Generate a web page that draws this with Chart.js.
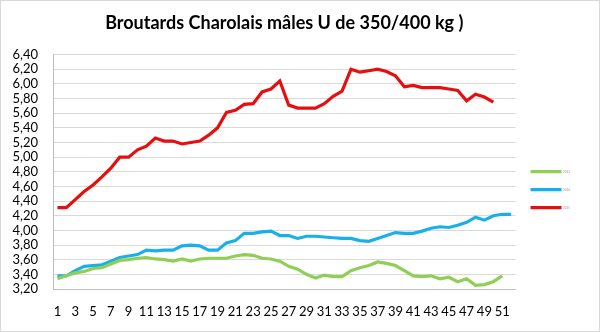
<!DOCTYPE html>
<html>
<head>
<meta charset="utf-8">
<script src="https://cdn.jsdelivr.net/npm/chart.js@4/dist/chart.umd.min.js"></script>
<style>
  body { margin: 0; background: #fff; }
  #wrap { width: 600px; height: 332px; box-sizing: border-box; border: 1px solid #d9d9d9; }
</style>
</head>
<body>
<div id="wrap"><canvas id="broutardsChart"></canvas></div>
<script>
// weeks 1..52
const weeks = Array.from({ length: 52 }, (_, i) => String(i + 1));

const seriesNames = ["2023", "2024", "2025"];

const prices2023 = [3.34, 3.38, 3.42, 3.44, 3.48, 3.49, 3.54, 3.59, 3.60, 3.62,
  3.63, 3.61, 3.60, 3.58, 3.61, 3.58, 3.61, 3.62, 3.62, 3.62,
  3.65, 3.67, 3.66, 3.62, 3.61, 3.58, 3.51, 3.47, 3.40, 3.35,
  3.39, 3.37, 3.37, 3.45, 3.49, 3.52, 3.57, 3.55, 3.52, 3.45,
  3.38, 3.37, 3.38, 3.34, 3.36, 3.30, 3.34, 3.25, 3.26, 3.30,
  3.38, null];

const prices2024 = [3.38, 3.38, 3.45, 3.51, 3.52, 3.53, 3.58, 3.63, 3.65, 3.67,
  3.73, 3.72, 3.73, 3.73, 3.79, 3.80, 3.79, 3.73, 3.73, 3.83,
  3.86, 3.96, 3.96, 3.98, 3.99, 3.93, 3.93, 3.89, 3.92, 3.92,
  3.91, 3.90, 3.89, 3.89, 3.86, 3.85, 3.89, 3.93, 3.97, 3.96,
  3.96, 3.99, 4.03, 4.05, 4.04, 4.07, 4.11, 4.18, 4.14, 4.20,
  4.22, 4.22];

const prices2025 = [4.31, 4.31, 4.42, 4.53, 4.62, 4.73, 4.85, 5.00, 5.00, 5.10,
  5.15, 5.26, 5.22, 5.22, 5.18, 5.20, 5.22, 5.30, 5.40, 5.61,
  5.64, 5.72, 5.73, 5.89, 5.93, 6.04, 5.71, 5.67, 5.67, 5.67,
  5.73, 5.83, 5.90, 6.20, 6.16, 6.18, 6.20, 6.17, 6.11, 5.96,
  5.98, 5.95, 5.95, 5.95, 5.93, 5.91, 5.77, 5.86, 5.82, 5.75,
  null, null];

const lineColors = ["#8fcf55", "#19b0ea", "#e60f0f"];

const fontFamily = "Lato, 'Open Sans', sans-serif";

const ctx = document.getElementById("broutardsChart");

new Chart(ctx, {
  type: "line",
  data: {
    labels: weeks,
    datasets: [prices2023, prices2024, prices2025].map(function (values, i) {
      return {
        label: seriesNames[i],
        data: values,
        borderColor: lineColors[i],
        backgroundColor: lineColors[i],
        borderWidth: 3.2,
        pointRadius: 0,
        tension: 0,
        spanGaps: false,
      };
    }),
  },
  options: {
    responsive: true,
    maintainAspectRatio: false,
    animation: false,
    layout: { padding: { left: 0, right: 19, top: 0, bottom: 0 } },
    plugins: {
      title: {
        display: true,
        text: "Broutards Charolais mâles U de 350/400 kg )",
        color: "#000",
        fullSize: false,
        font: { family: fontFamily, size: 18, weight: "bold" },
        padding: { top: 11, bottom: 21 },
      },
      legend: {
        position: "right",
        fullSize: false,
        align: "center",
        title: { display: true, text: "", font: { size: 3 }, padding: { top: 16, bottom: 16 } },
        labels: {
          usePointStyle: true,
          pointStyle: "line",
          pointStyleWidth: 31,
          color: "#999",
          font: { family: fontFamily, size: 3 },
          padding: 15,
        },
      },
      tooltip: { enabled: false },
    },
    scales: {
      x: {
        offset: true,
        grid: { display: false, drawTicks: false },
        border: { display: true, color: "#bfbfbf" },
        ticks: {
          autoSkip: false,
          maxRotation: 0,
          padding: 15,
          color: "#000",
          font: { family: fontFamily, size: 13 },
          callback: function (value, index) {
            return index % 2 === 0 ? this.getLabelForValue(value) : "";
          },
        },
        afterFit: function (scale) { scale.height = 42; },
      },
      y: {
        min: 3.2,
        max: 6.4,
        grid: { color: "#d9d9d9", drawTicks: false },
        border: { display: true, color: "#bfbfbf" },
        ticks: {
          stepSize: 0.2,
          autoSkip: false,
          padding: 15,
          color: "#000",
          font: { family: fontFamily, size: 13 },
          callback: function (value) {
            return value.toFixed(2).replace(".", ",");
          },
        },
        afterFit: function (scale) { scale.width = 52; },
      },
    },
  },
});
</script>
</body>
</html>
